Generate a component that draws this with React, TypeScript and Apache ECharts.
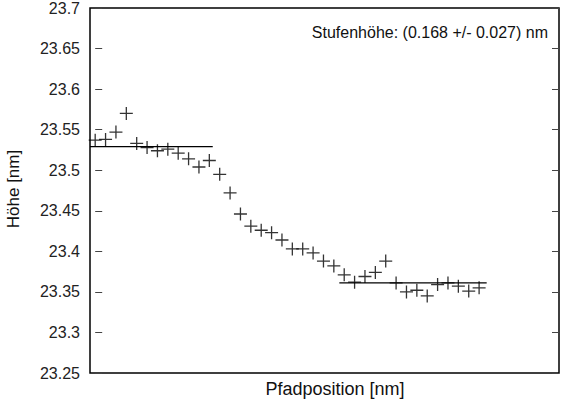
import React, { useEffect, useRef } from "react";
import * as echarts from "echarts";

const heights: number[] = [
  23.537, 23.538, 23.547, 23.570, 23.533, 23.528, 23.524, 23.526, 23.521, 23.514,
  23.504, 23.512, 23.495, 23.472, 23.446, 23.431, 23.426, 23.423, 23.414, 23.403,
  23.403, 23.398, 23.388, 23.382, 23.371, 23.362, 23.369, 23.374, 23.388, 23.361,
  23.350, 23.352, 23.345, 23.359, 23.361, 23.357, 23.351, 23.355,
];
const upperFit: [number, number][] = [[-0.5, 23.529], [11.33, 23.529]];
const lowerFit: [number, number][] = [[23.53, 23.361], [37.73, 23.361]];
const yTicks = { min: 23.25, max: 23.7, interval: 0.05 };
const annotation = "Stufenhöhe: (0.168 +/- 0.027) nm";
const xName = "Pfadposition [nm]";
const yName = "Höhe [nm]";

const FONT = "Liberation Sans, Arial, sans-serif";

export default function App() {
  const ref = useRef<HTMLDivElement>(null);
  useEffect(() => {
    if (!ref.current) return;
    const chart = echarts.init(ref.current, null, { renderer: "svg" });
    const pts = heights.map((h, i) => [i, h]);
    chart.setOption({
      animation: false,
      backgroundColor: "#fff",
      grid: {
        left: 90, right: 3, top: 7, bottom: 30,
        show: true, borderColor: "#000", borderWidth: 1.5, backgroundColor: "transparent",
      },
      xAxis: {
        type: "value", min: -0.5, max: 44.7,
        axisLine: { show: false }, axisTick: { show: false },
        axisLabel: { show: false }, splitLine: { show: false },
      },
      yAxis: [
        {
          type: "value", min: yTicks.min, max: yTicks.max, interval: yTicks.interval,
          axisLine: { show: false },
          axisTick: { show: true, inside: true, length: 7, lineStyle: { color: "#444", width: 1 } },
          axisLabel: {
            fontFamily: FONT, fontSize: 16, color: "#222", margin: 10,
            formatter: (v: number) => String(parseFloat(v.toFixed(2))),
          },
          splitLine: { show: false },
        },
        {
          type: "value", min: yTicks.min, max: yTicks.max, interval: yTicks.interval,
          position: "right",
          axisLine: { show: false },
          axisTick: { show: true, inside: true, length: 7, lineStyle: { color: "#444", width: 1 } },
          axisLabel: { show: false },
          splitLine: { show: false },
        },
      ],
      graphic: [
        {
          type: "text", right: 14, top: 24,
          style: { text: annotation, fontFamily: FONT, fontSize: 16, fill: "#111" },
        },
        {
          type: "text", x: 335, y: 389,
          style: { text: xName, fontFamily: FONT, fontSize: 18, fill: "#111", align: "center", verticalAlign: "middle" },
        },
        {
          type: "text", x: 13, y: 189, rotation: Math.PI / 2,
          style: { text: yName, fontFamily: FONT, fontSize: 17, fill: "#111", align: "center", verticalAlign: "middle" },
        },
      ],
      series: [
        {
          type: "scatter", data: pts,
          symbol: "path://M5,0 L5,10 M0,5 L10,5",
          symbolSize: 13,
          itemStyle: { color: "transparent", borderColor: "#000", borderWidth: 1.3 },
          emphasis: { disabled: true },
        },
        {
          type: "line", data: upperFit, showSymbol: false, symbol: "none",
          lineStyle: { color: "#000", width: 1.3 },
        },
        {
          type: "line", data: lowerFit, showSymbol: false, symbol: "none",
          lineStyle: { color: "#000", width: 1.3 },
        },
      ],
    });
    return () => chart.dispose();
  }, []);
  return <div ref={ref} style={{ position: "fixed", left: 0, top: 0, width: 562, height: 403 }} />;
}
